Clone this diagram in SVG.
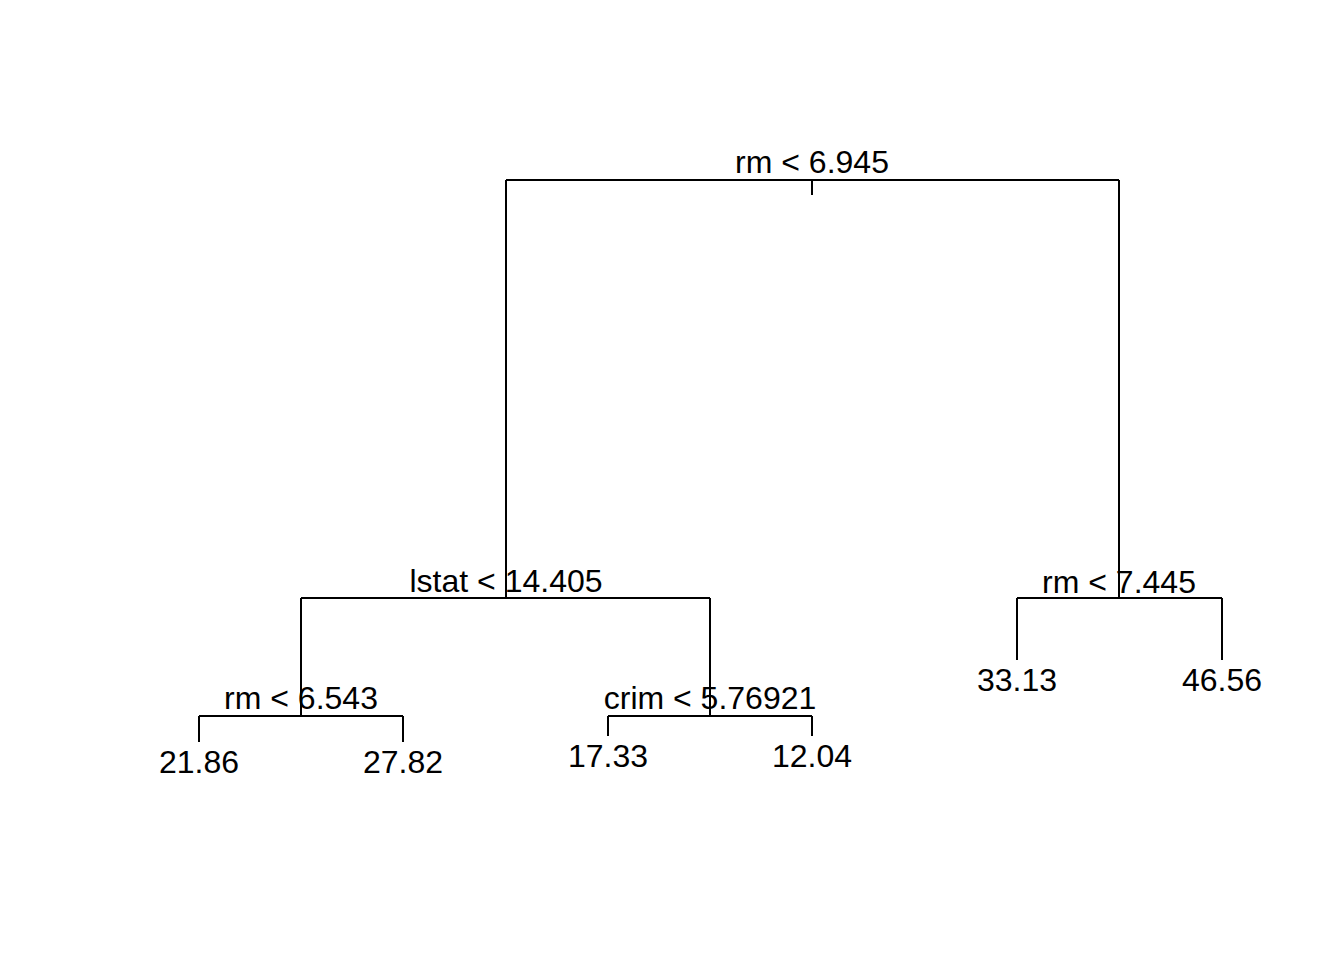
<svg xmlns="http://www.w3.org/2000/svg" width="1344" height="960" viewBox="0 0 1344 960">
<style>
.t{font-family:"Liberation Sans",Arial,sans-serif;font-size:32px;fill:#000;text-anchor:middle}
.e{stroke:#000;stroke-width:2;fill:none;stroke-linecap:butt}
</style>
<rect width="1344" height="960" fill="#fff"/>
<g id="connectors" class="e">
<path d="M812,195V180M506,180H1119"/>
<path d="M506,180V598M301,598H710"/>
<path d="M1119,180V598M1017,598H1222"/>
<path d="M301,598V716M199,716H403"/>
<path d="M710,598V716M608,716H812"/>
<path d="M199,716V742M403,716V742"/>
<path d="M608,716V736M812,716V736"/>
<path d="M1017,598V660M1222,598V660"/>
</g>
<g id="n_root"><text class="t" x="812" y="173">rm &lt; 6.945</text></g>
<g id="n_lstat"><text class="t" x="506" y="592">lstat &lt; 14.405</text></g>
<g id="n_rm7"><text class="t" x="1119" y="593">rm &lt; 7.445</text></g>
<g id="n_rm6"><text class="t" x="301" y="709">rm &lt; 6.543</text></g>
<g id="n_crim"><text class="t" x="710" y="709">crim &lt; 5.76921</text></g>
<g id="l_2186"><text class="t" x="199" y="773">21.86</text></g>
<g id="l_2782"><text class="t" x="403" y="773">27.82</text></g>
<g id="l_1733"><text class="t" x="608" y="767">17.33</text></g>
<g id="l_1204"><text class="t" x="812" y="767">12.04</text></g>
<g id="l_3313"><text class="t" x="1017" y="691">33.13</text></g>
<g id="l_4656"><text class="t" x="1222" y="691">46.56</text></g>
</svg>
